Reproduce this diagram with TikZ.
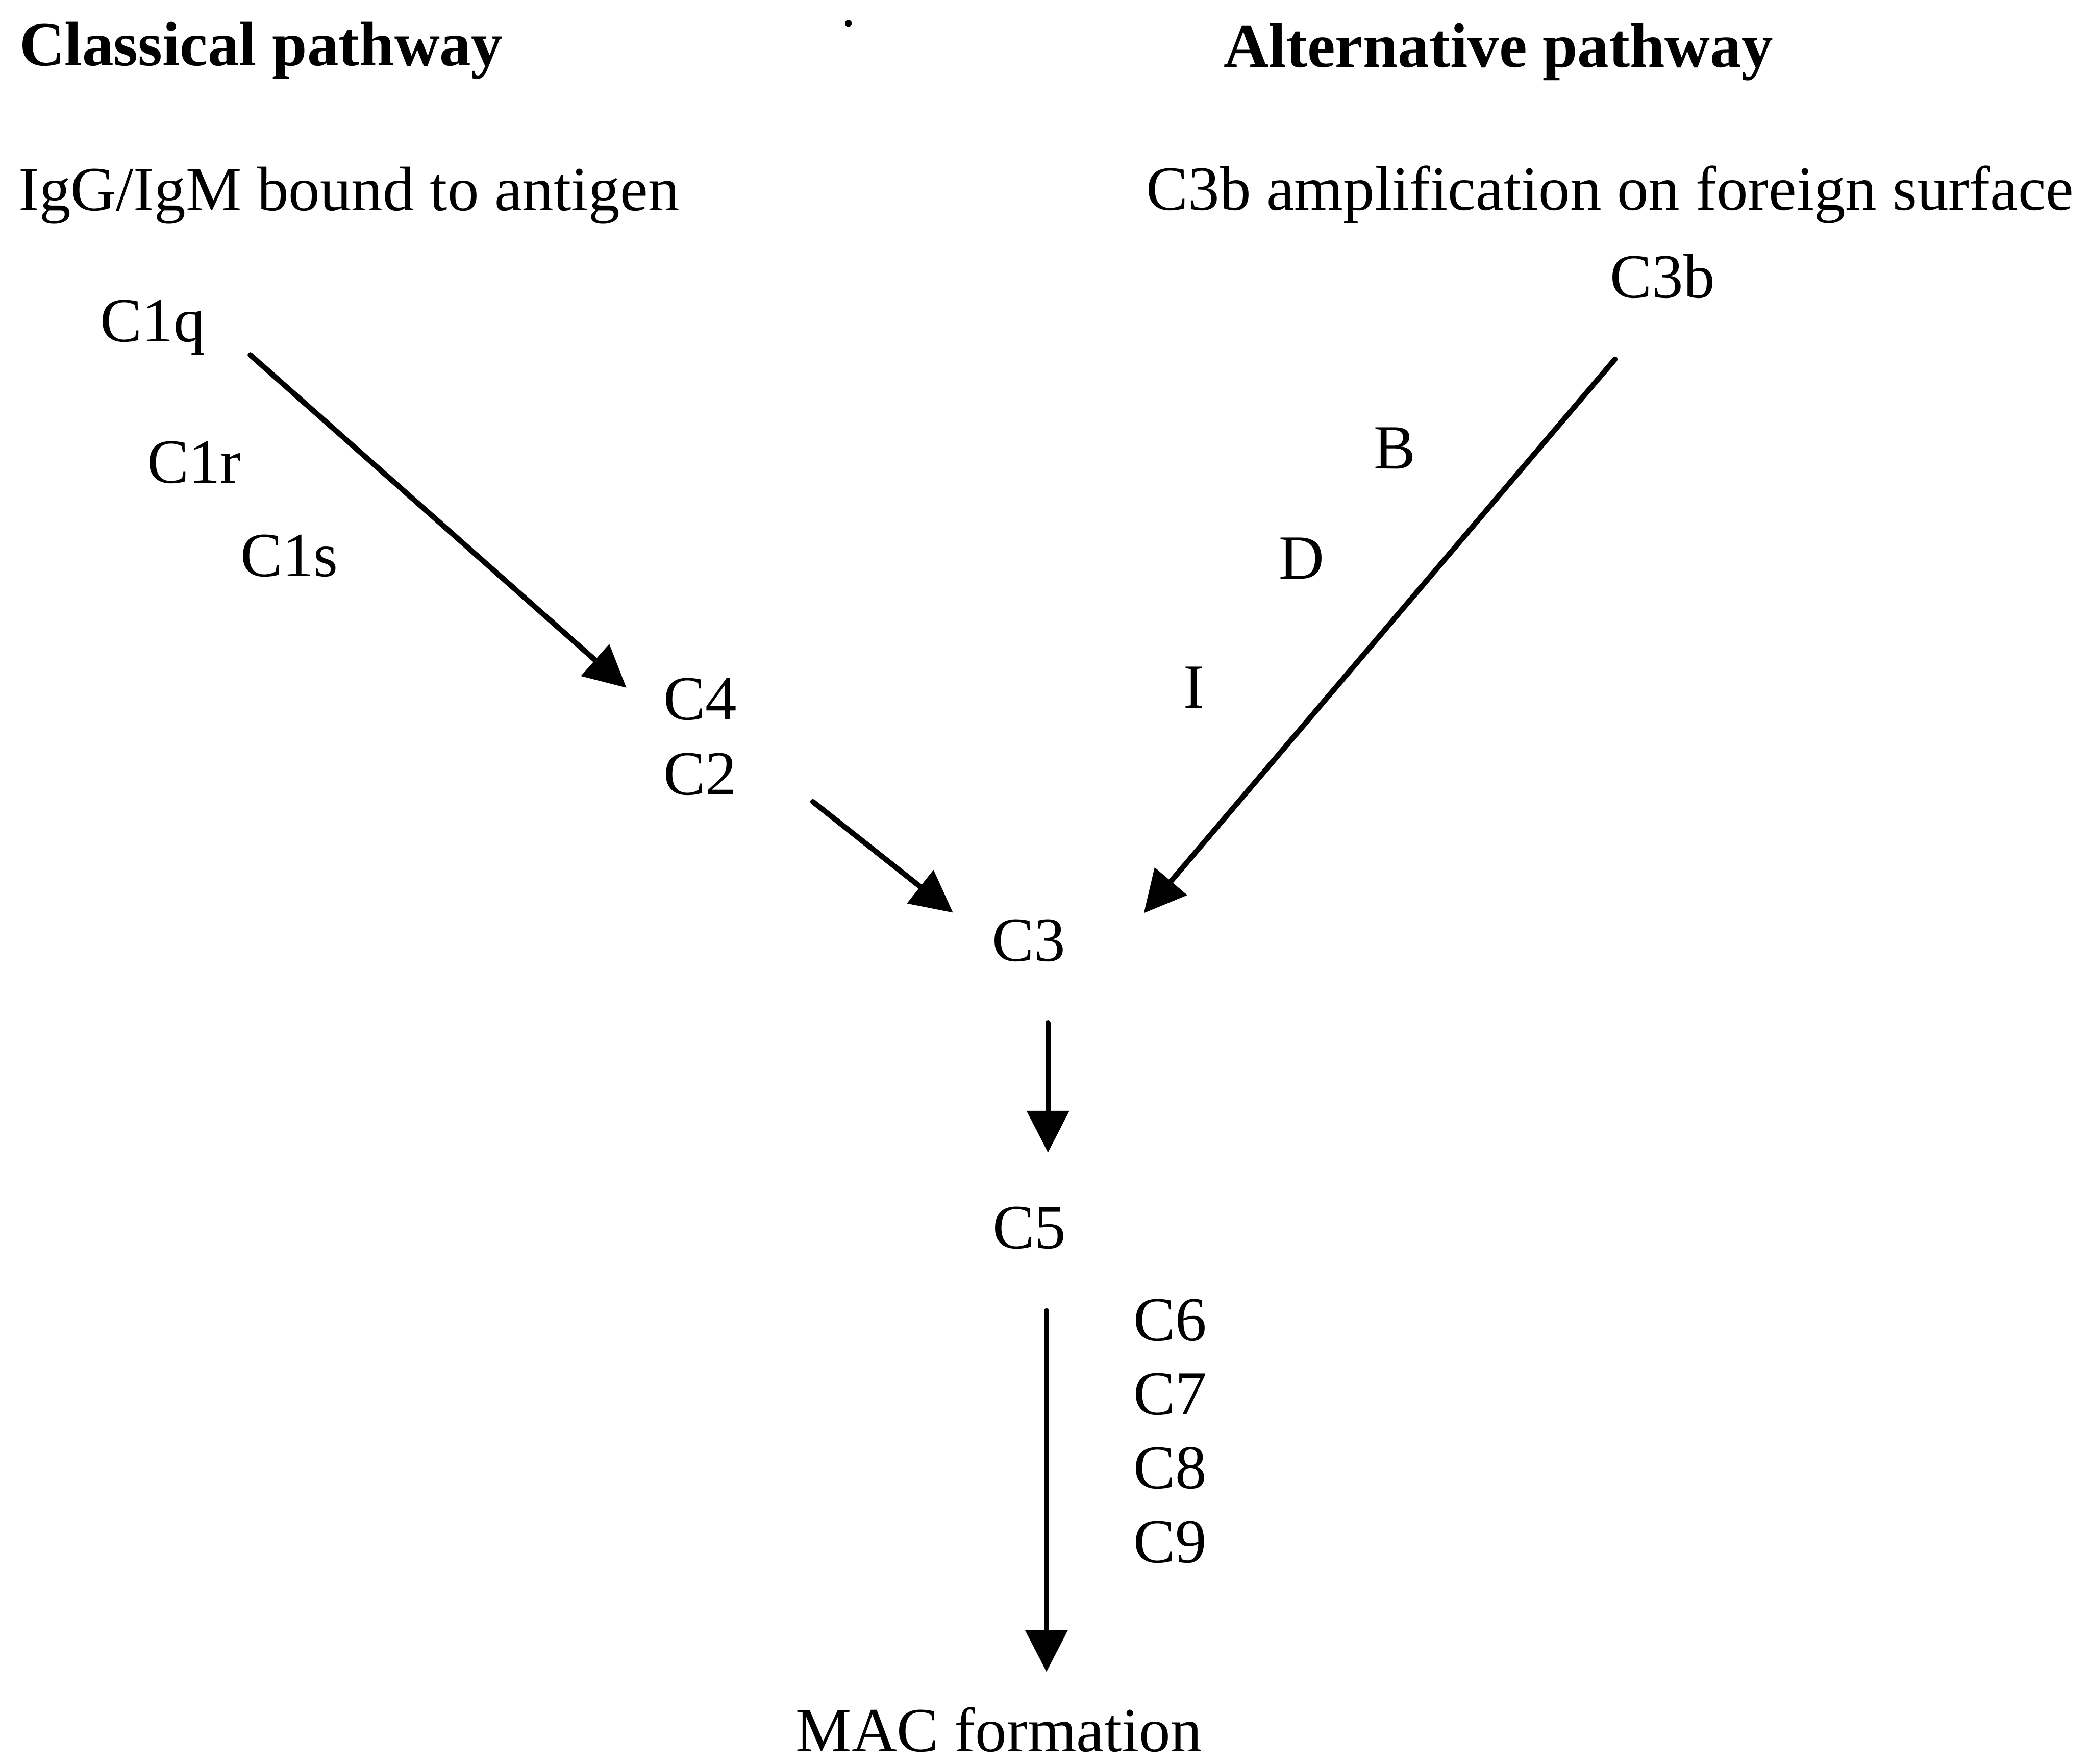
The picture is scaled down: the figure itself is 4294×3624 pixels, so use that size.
\documentclass[tikz,border=0pt]{standalone}
\usepackage{fontspec}
\setmainfont{Liberation Serif}
\usetikzlibrary{arrows.meta}
\tikzset{
  lbl/.style={anchor=base west, inner sep=0pt, outer sep=0pt, font=\fontsize{12.9pt}{15pt}\selectfont},
  hdr/.style={lbl, font=\fontsize{12.9pt}{15pt}\selectfont\bfseries},
  flow/.style={line width=1.1pt, line cap=round, -{Triangle[length=8.6pt,width=8.5pt]}}
}
\begin{document}
\begin{tikzpicture}[x=0.1pt,y=-0.1pt]
\useasboundingbox[fill=white] (0,0) rectangle (4294,3624);
% headings
\node[hdr] (hcl) at (40,135) {Classical pathway};
\node[hdr] (hal) at (2514,138) {Alternative pathway};
\fill (1743,48) circle (7);
% triggers
\node[lbl] (trig1) at (38,432) {IgG/IgM bound to antigen};
\node[lbl] (trig2) at (2355,431) {C3b amplification on foreign surface};
% classical
\node[lbl] (c1q) at (206,702) {C1q};
\node[lbl] (c1r) at (302,992) {C1r};
\node[lbl] (c1s) at (494,1184) {C1s};
\node[lbl] (c4) at (1363,1479) {C4};
\node[lbl] (c2) at (1363,1633) {C2};
% alternative
\node[lbl] (c3b) at (3308,612) {C3b};
\node[lbl] (fb) at (2823,963) {B};
\node[lbl] (fd) at (2628,1189) {D};
\node[lbl] (fi) at (2432,1454) {I};
% common
\node[lbl] (c3) at (2038,1974) {C3};
\node[lbl] (c5) at (2039,2565) {C5};
\node[lbl] (c6) at (2329,2754) {C6};
\node[lbl] (c7) at (2329,2906) {C7};
\node[lbl] (c8) at (2329,3058) {C8};
\node[lbl] (c9) at (2329,3210) {C9};
\node[lbl] (mac) at (1635,3598) {MAC formation};
% arrow end points
\coordinate (a1s) at (514,729);
\coordinate (a1e) at (1287,1413);
\coordinate (a2s) at (1670,1647);
\coordinate (a2e) at (1958,1875);
\coordinate (a3s) at (3318,738);
\coordinate (a3e) at (2350,1876);
\coordinate (a4s) at (2153,2101);
\coordinate (a4e) at (2153,2368);
\coordinate (a5s) at (2150,2693);
\coordinate (a5e) at (2150,3435);
\draw[flow] (a1s) -- (a1e);
\draw[flow] (a2s) -- (a2e);
\draw[flow] (a3s) -- (a3e);
\draw[flow] (a4s) -- (a4e);
\draw[flow] (a5s) -- (a5e);
\end{tikzpicture}
\end{document}
